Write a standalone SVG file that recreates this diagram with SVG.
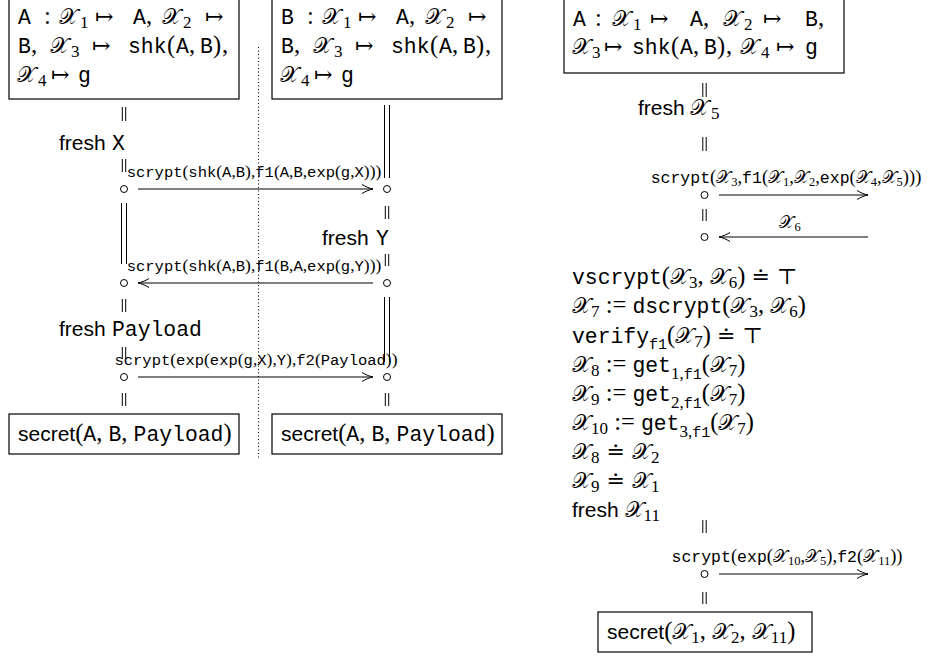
<svg xmlns="http://www.w3.org/2000/svg" width="935" height="656" viewBox="0 0 935 656">
<style>
.box{fill:none;stroke:#000;stroke-width:1.2}
.ln{stroke:#000;stroke-width:1;fill:none}
.dot{stroke:#000;stroke-width:1;stroke-dasharray:1 2.5}
.ev{fill:#fff;stroke:#000;stroke-width:1}
text{fill:#000}
.tt{font-family:"Liberation Mono","DejaVu Sans Mono",monospace;font-size:21.4px}
.rm{font-family:"Liberation Serif","DejaVu Serif",serif;font-size:24.5px}
.sym{font-family:"DejaVu Serif","Liberation Serif",serif;font-size:22px}
.sf{font-family:"Liberation Sans","DejaVu Sans",sans-serif;font-size:21px}
.cal{font-family:"DejaVu Serif","DejaVu Sans","Noto Sans",serif;font-size:22px}
.sub{font-family:"Liberation Serif","DejaVu Serif",serif;font-size:17px}
.subtt{font-family:"Liberation Mono",monospace;font-size:15px}
.ltt{font-family:"Liberation Mono","DejaVu Sans Mono",monospace;font-size:15.5px}
.lrm{font-family:"Liberation Serif","DejaVu Serif",serif;font-size:17.5px}
.rtt{font-family:"Liberation Mono","DejaVu Sans Mono",monospace;font-size:16.5px}
.rrm{font-family:"Liberation Serif","DejaVu Serif",serif;font-size:18.5px}
.lcal{font-family:"DejaVu Serif","DejaVu Sans","Noto Sans",serif;font-size:17px}
.lsub{font-family:"Liberation Serif","DejaVu Serif",serif;font-size:12.5px}
</style>
<defs>
<marker id="ah" markerUnits="userSpaceOnUse" viewBox="-12 -6 13 12" refX="0" refY="0" markerWidth="13" markerHeight="12" orient="auto" overflow="visible">
<path d="M-11,-4.5 C-7,-2 -3,-0.6 0,0 C-3,0.6 -7,2 -11,4.5" fill="none" stroke="#000" stroke-width="1"/>
</marker>
</defs>

<g id="divider"><line class="dot" x1="258.5" y1="47" x2="258.5" y2="460"/></g>

<g id="a-init">
<rect class="box" x="9" y="-1" width="230" height="100"/>
<text class="rm" y="24"><tspan class="tt" x="18">A</tspan><tspan x="44">:</tspan><tspan class="cal" x="59">𝒳</tspan><tspan class="sub" x="80" dy="4">1</tspan><tspan class="sym" x="95" dy="-4">↦</tspan><tspan class="tt" x="133">A</tspan><tspan x="146">,</tspan><tspan class="cal" x="162">𝒳</tspan><tspan class="sub" x="183" dy="4">2</tspan><tspan class="sym" x="205" dy="-4">↦</tspan></text>
<text class="rm" y="53"><tspan class="tt" x="18">B</tspan><tspan x="31">,</tspan><tspan class="cal" x="50">𝒳</tspan><tspan class="sub" x="71" dy="4">3</tspan><tspan class="sym" x="92" dy="-4">↦</tspan><tspan class="tt" x="128">shk</tspan><tspan x="167">(</tspan><tspan class="tt" x="176">A</tspan><tspan x="189">,</tspan><tspan class="tt" x="200">B</tspan><tspan x="213">)</tspan><tspan x="222">,</tspan></text>
<text class="rm" y="82"><tspan class="cal" x="17">𝒳</tspan><tspan class="sub" x="38" dy="4">4</tspan><tspan class="sym" x="51" dy="-4">↦</tspan><tspan class="tt" x="78">g</tspan></text>
</g>

<g id="b-init">
<rect class="box" x="272" y="-1" width="230" height="100"/>
<text class="rm" y="24"><tspan class="tt" x="281">B</tspan><tspan x="307">:</tspan><tspan class="cal" x="322">𝒳</tspan><tspan class="sub" x="343" dy="4">1</tspan><tspan class="sym" x="358" dy="-4">↦</tspan><tspan class="tt" x="396">A</tspan><tspan x="409">,</tspan><tspan class="cal" x="425">𝒳</tspan><tspan class="sub" x="446" dy="4">2</tspan><tspan class="sym" x="468" dy="-4">↦</tspan></text>
<text class="rm" y="53"><tspan class="tt" x="281">B</tspan><tspan x="294">,</tspan><tspan class="cal" x="313">𝒳</tspan><tspan class="sub" x="334" dy="4">3</tspan><tspan class="sym" x="355" dy="-4">↦</tspan><tspan class="tt" x="391">shk</tspan><tspan x="430">(</tspan><tspan class="tt" x="439">A</tspan><tspan x="452">,</tspan><tspan class="tt" x="463">B</tspan><tspan x="476">)</tspan><tspan x="485">,</tspan></text>
<text class="rm" y="82"><tspan class="cal" x="280">𝒳</tspan><tspan class="sub" x="301" dy="4">4</tspan><tspan class="sym" x="314" dy="-4">↦</tspan><tspan class="tt" x="341">g</tspan></text>
</g>

<g id="ar-init">
<rect class="box" x="564" y="-1" width="280" height="74"/>
<text class="rm" y="26"><tspan class="tt" x="573">A</tspan><tspan x="595">:</tspan><tspan class="cal" x="612">𝒳</tspan><tspan class="sub" x="633" dy="4">1</tspan><tspan class="sym" x="650" dy="-4">↦</tspan><tspan class="tt" x="690">A</tspan><tspan x="703">,</tspan><tspan class="cal" x="723">𝒳</tspan><tspan class="sub" x="744" dy="4">2</tspan><tspan class="sym" x="763" dy="-4">↦</tspan><tspan class="tt" x="805">B</tspan><tspan x="818">,</tspan></text>
<text class="rm" y="54"><tspan class="cal" x="572">𝒳</tspan><tspan class="sub" x="592" dy="4">3</tspan><tspan class="sym" x="604" dy="-4">↦</tspan><tspan class="tt" x="632">shk</tspan><tspan x="671">(</tspan><tspan class="tt" x="680">A</tspan><tspan x="693">,</tspan><tspan class="tt" x="704">B</tspan><tspan x="717">)</tspan><tspan x="726">,</tspan><tspan class="cal" x="740">𝒳</tspan><tspan class="sub" x="761" dy="4">4</tspan><tspan class="sym" x="776" dy="-4">↦</tspan><tspan class="tt" x="805">g</tspan></text>
</g>

<g id="lifelines">
<path class="ln" d="M122.3,107V121M125.7,107V121M122.3,159V172M125.7,159V172M121.5,203V264M126.5,203V264M122.3,299V312M125.7,299V312M122.3,347V359M125.7,347V359M122.3,393V406M125.7,393V406"/>
<path class="ln" d="M384.5,105V178M389.5,105V178M385.3,206V219M388.7,206V219M385.3,254V266M388.7,254V266M384.5,297V362M389.5,297V362M385.3,393V406M388.7,393V406"/>
<path class="ln" d="M702.8,83V97M706.2,83V97M702.8,137V151M706.2,137V151M702.8,209V221M706.2,209V221M702.8,520V533M706.2,520V533M702.8,592V604M706.2,592V604"/>
</g>

<g id="a-fresh-x"><text y="150"><tspan class="sf" x="59">fresh</tspan><tspan class="tt" x="112">X</tspan></text></g>
<g id="b-fresh-y"><text y="245"><tspan class="sf" x="322">fresh</tspan><tspan class="tt" x="376">Y</tspan></text></g>
<g id="a-fresh-payload"><text y="336"><tspan class="sf" x="59">fresh</tspan><tspan class="tt" x="112">Payload</tspan></text></g>
<g id="ar-fresh-x5"><text y="115"><tspan class="sf" x="638">fresh</tspan><tspan class="cal" x="690">𝒳</tspan><tspan class="sub" x="711" dy="4">5</tspan></text></g>

<g id="ar-checks">
<text class="rm" x="572" y="284"><tspan class="tt">vscrypt</tspan>(<tspan class="cal">𝒳</tspan><tspan class="sub" dy="4">3</tspan><tspan dy="-4">, </tspan><tspan class="cal">𝒳</tspan><tspan class="sub" dy="4">6</tspan><tspan dy="-4">) </tspan><tspan class="sym">≐ ⊤</tspan></text>
<text class="rm" x="572" y="313"><tspan class="cal">𝒳</tspan><tspan class="sub" dy="4">7</tspan><tspan dy="-4"> := </tspan><tspan class="tt">dscrypt</tspan>(<tspan class="cal">𝒳</tspan><tspan class="sub" dy="4">3</tspan><tspan dy="-4">, </tspan><tspan class="cal">𝒳</tspan><tspan class="sub" dy="4">6</tspan><tspan dy="-4">)</tspan></text>
<text class="rm" x="572" y="343"><tspan class="tt">verify</tspan><tspan class="subtt" dy="6">f1</tspan><tspan dy="-6">(</tspan><tspan class="cal">𝒳</tspan><tspan class="sub" dy="4">7</tspan><tspan dy="-4">) </tspan><tspan class="sym">≐ ⊤</tspan></text>
<text class="rm" x="572" y="372"><tspan class="cal">𝒳</tspan><tspan class="sub" dy="4">8</tspan><tspan dy="-4"> := </tspan><tspan class="tt">get</tspan><tspan class="sub" dy="7">1,</tspan><tspan class="subtt">f1</tspan><tspan dy="-7">(</tspan><tspan class="cal">𝒳</tspan><tspan class="sub" dy="4">7</tspan><tspan dy="-4">)</tspan></text>
<text class="rm" x="572" y="401"><tspan class="cal">𝒳</tspan><tspan class="sub" dy="4">9</tspan><tspan dy="-4"> := </tspan><tspan class="tt">get</tspan><tspan class="sub" dy="7">2,</tspan><tspan class="subtt">f1</tspan><tspan dy="-7">(</tspan><tspan class="cal">𝒳</tspan><tspan class="sub" dy="4">7</tspan><tspan dy="-4">)</tspan></text>
<text class="rm" x="572" y="430"><tspan class="cal">𝒳</tspan><tspan class="sub" dy="4">10</tspan><tspan dy="-4"> := </tspan><tspan class="tt">get</tspan><tspan class="sub" dy="7">3,</tspan><tspan class="subtt">f1</tspan><tspan dy="-7">(</tspan><tspan class="cal">𝒳</tspan><tspan class="sub" dy="4">7</tspan><tspan dy="-4">)</tspan></text>
<text class="rm" x="572" y="459"><tspan class="cal">𝒳</tspan><tspan class="sub" dy="4">8</tspan><tspan class="sym" dy="-4"> ≐ </tspan><tspan class="cal">𝒳</tspan><tspan class="sub" dy="4">2</tspan></text>
<text class="rm" x="572" y="488"><tspan class="cal">𝒳</tspan><tspan class="sub" dy="4">9</tspan><tspan class="sym" dy="-4"> ≐ </tspan><tspan class="cal">𝒳</tspan><tspan class="sub" dy="4">1</tspan></text>
<text class="rm" x="572" y="517"><tspan class="sf">fresh </tspan><tspan class="cal">𝒳</tspan><tspan class="sub" dy="4">11</tspan></text>
</g>

<g id="a-end">
<rect class="box" x="9" y="414" width="230" height="40"/>
<text class="rm" x="18" y="441"><tspan class="sf">secret</tspan>(<tspan class="tt">A</tspan>, <tspan class="tt">B</tspan>, <tspan class="tt">Payload</tspan>)</text>
</g>
<g id="b-end">
<rect class="box" x="272" y="414" width="230" height="40"/>
<text class="rm" x="281" y="441"><tspan class="sf">secret</tspan>(<tspan class="tt">A</tspan>, <tspan class="tt">B</tspan>, <tspan class="tt">Payload</tspan>)</text>
</g>
<g id="ar-end">
<rect class="box" x="598" y="612" width="214" height="40"/>
<text class="rm" x="607" y="639"><tspan class="sf">secret</tspan>(<tspan class="cal">𝒳</tspan><tspan class="sub" dy="4">1</tspan><tspan dy="-4">, </tspan><tspan class="cal">𝒳</tspan><tspan class="sub" dy="4">2</tspan><tspan dy="-4">, </tspan><tspan class="cal">𝒳</tspan><tspan class="sub" dy="4">11</tspan><tspan dy="-4">)</tspan></text>
</g>

<g id="events">
<circle class="ev" cx="124" cy="189" r="3.5"/>
<circle class="ev" cx="387" cy="189" r="3.5"/>
<circle class="ev" cx="124" cy="283" r="3.5"/>
<circle class="ev" cx="387" cy="283" r="3.5"/>
<circle class="ev" cx="124" cy="377" r="3.5"/>
<circle class="ev" cx="387" cy="377" r="3.5"/>
<circle class="ev" cx="704.5" cy="195" r="3.5"/>
<circle class="ev" cx="704.5" cy="237" r="3.5"/>
<circle class="ev" cx="704.5" cy="574" r="3.5"/>
</g>

<g id="connectors">
<line class="ln" x1="138" y1="189" x2="373" y2="189" marker-end="url(#ah)"/>
<text class="lrm" x="254" y="177" text-anchor="middle"><tspan class="ltt">scrypt</tspan>(<tspan class="ltt">shk</tspan>(<tspan class="ltt">A</tspan>,<tspan class="ltt">B</tspan>),<tspan class="ltt">f1</tspan>(<tspan class="ltt">A</tspan>,<tspan class="ltt">B</tspan>,<tspan class="ltt">exp</tspan>(<tspan class="ltt">g</tspan>,<tspan class="ltt">X</tspan>)))</text>
<line class="ln" x1="373" y1="283" x2="138" y2="283" marker-end="url(#ah)"/>
<text class="lrm" x="254" y="271" text-anchor="middle"><tspan class="ltt">scrypt</tspan>(<tspan class="ltt">shk</tspan>(<tspan class="ltt">A</tspan>,<tspan class="ltt">B</tspan>),<tspan class="ltt">f1</tspan>(<tspan class="ltt">B</tspan>,<tspan class="ltt">A</tspan>,<tspan class="ltt">exp</tspan>(<tspan class="ltt">g</tspan>,<tspan class="ltt">Y</tspan>)))</text>
<line class="ln" x1="138" y1="377" x2="373" y2="377" marker-end="url(#ah)"/>
<text class="lrm" x="256" y="365" text-anchor="middle"><tspan class="ltt">scrypt</tspan>(<tspan class="ltt">exp</tspan>(<tspan class="ltt">exp</tspan>(<tspan class="ltt">g</tspan>,<tspan class="ltt">X</tspan>),<tspan class="ltt">Y</tspan>),<tspan class="ltt">f2</tspan>(<tspan class="ltt">Payload</tspan>))</text>

<line class="ln" x1="719" y1="195" x2="868" y2="195" marker-end="url(#ah)"/>
<text class="rrm" x="786" y="183" text-anchor="middle"><tspan class="rtt">scrypt</tspan>(<tspan class="lcal">𝒳</tspan><tspan class="lsub" dy="3">3</tspan><tspan dy="-3">,</tspan><tspan class="rtt">f1</tspan>(<tspan class="lcal">𝒳</tspan><tspan class="lsub" dy="3">1</tspan><tspan dy="-3">,</tspan><tspan class="lcal">𝒳</tspan><tspan class="lsub" dy="3">2</tspan><tspan dy="-3">,</tspan><tspan class="rtt">exp</tspan>(<tspan class="lcal">𝒳</tspan><tspan class="lsub" dy="3">4</tspan><tspan dy="-3">,</tspan><tspan class="lcal">𝒳</tspan><tspan class="lsub" dy="3">5</tspan><tspan dy="-3">)))</tspan></text>
<line class="ln" x1="868" y1="237" x2="719" y2="237" marker-end="url(#ah)"/>
<text class="rrm" x="790" y="228" text-anchor="middle"><tspan class="lcal">𝒳</tspan><tspan class="lsub" dy="3">6</tspan></text>
<line class="ln" x1="719" y1="574" x2="868" y2="574" marker-end="url(#ah)"/>
<text class="rrm" x="787" y="562" text-anchor="middle"><tspan class="rtt">scrypt</tspan>(<tspan class="rtt">exp</tspan>(<tspan class="lcal">𝒳</tspan><tspan class="lsub" dy="3">10</tspan><tspan dy="-3">,</tspan><tspan class="lcal">𝒳</tspan><tspan class="lsub" dy="3">5</tspan><tspan dy="-3">),</tspan><tspan class="rtt">f2</tspan>(<tspan class="lcal">𝒳</tspan><tspan class="lsub" dy="3">11</tspan><tspan dy="-3">))</tspan></text>
</g>
</svg>
